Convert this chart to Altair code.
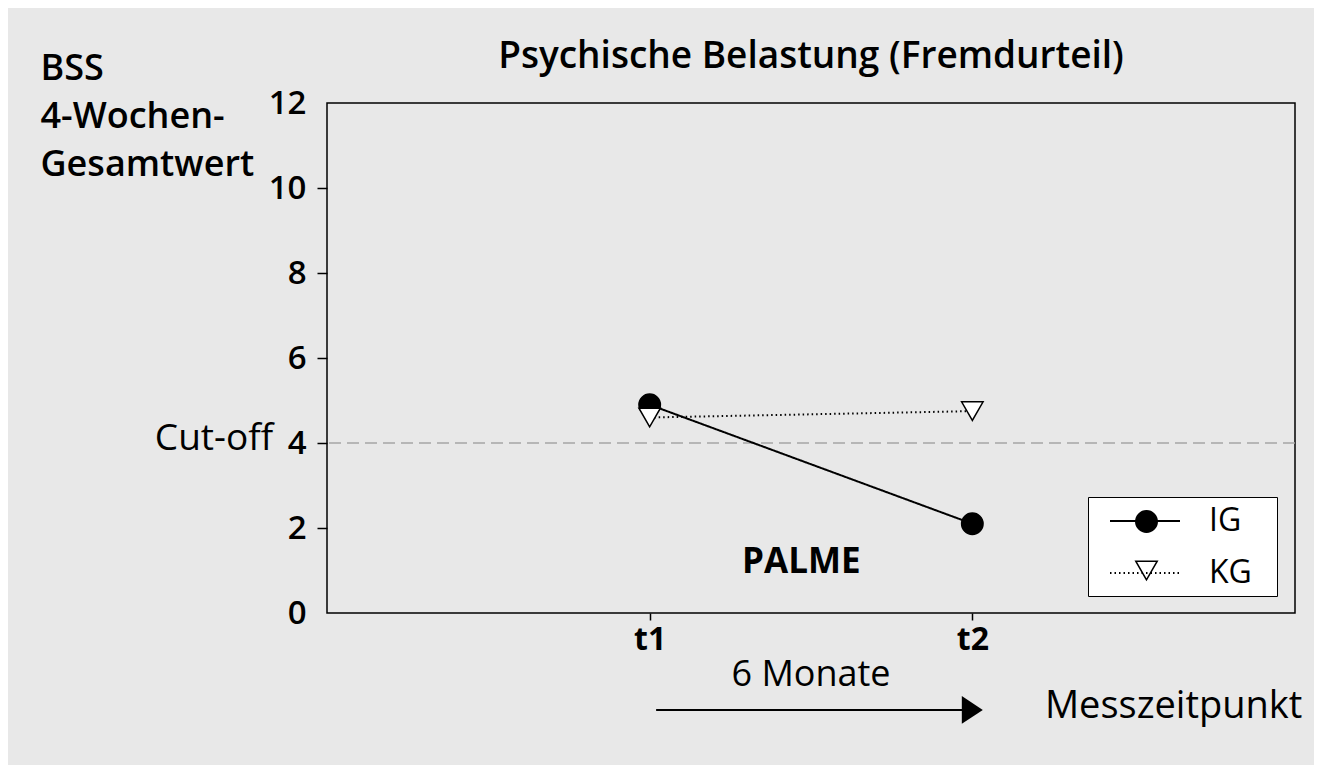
import altair as alt
import pandas as pd

# ---- data ----
groups = ["IG", "KG"]
times = [1, 2]            # t1, t2
ig_values = [4.9, 2.1]
kg_values = [4.6, 4.75]
cutoff = 4
y_ticks = [0, 2, 4, 6, 8, 10, 12]

rows = []
for t, v in zip(times, ig_values):
    rows.append({"t": t, "value": v, "group": "IG", "marker": "IG\u00a0"})
for t, v in zip(times, kg_values):
    rows.append({"t": t, "value": v, "group": "KG", "marker": "KG\u00a0"})
df = pd.DataFrame(rows)
markers = ["IG\u00a0", "KG\u00a0"]

FONT = "Open Sans"
BG = "#e8e8e8"
FS = 37

xscale = alt.Scale(domain=[0, 3], nice=False, zero=False)
yscale = alt.Scale(domain=[0, 12], nice=False)

x_enc = alt.X("t:Q", scale=xscale,
              axis=alt.Axis(values=times, labelExpr="'t' + datum.value", title=None,
                            domain=False, grid=False, tickSize=7, tickColor="black",
                            tickWidth=1.5, labelFontSize=32, labelFontWeight="bold",
                            labelColor="black", labelPadding=4, labelFont=FONT))
y_enc = alt.Y("value:Q", scale=yscale,
              axis=alt.Axis(values=y_ticks, title=["BSS", "4-Wochen-", "Gesamtwert"],
                            titleAngle=0, titleAlign="left", titleBaseline="alphabetic",
                            titleX=-287, titleY=-24, titleLineHeight=48,
                            titleFontSize=36, titleFontWeight=600, titleFont=FONT,
                            titleColor="black",
                            domain=False, grid=False, tickSize=10, tickColor="black",
                            tickWidth=1.5,
                            tickOpacity=alt.condition("datum.value == 0 || datum.value == 12",
                                                      alt.value(0), alt.value(1)),
                            labelFontSize=33, labelFontWeight=600, labelColor="black",
                            labelPadding=11, labelFont=FONT))

cut_rule = alt.Chart().mark_rule(color="#a5a5a5", strokeWidth=1.5, strokeDash=[12, 6]).encode(
    y=alt.datum(cutoff, scale=yscale)
)

# line-style legend (drawn on top, no box)
line_legend = alt.Legend(orient="none", legendX=761, legendY=374,
                         title=None, symbolType="stroke",
                         symbolSize=4900, symbolStrokeWidth=2,
                         symbolStrokeColor="black",
                         labelFontSize=32, labelFont=FONT,
                         labelColor="black", labelOffset=28,
                         symbolOffset=13, padding=8, rowPadding=-26, zindex=2)

lines = alt.Chart(df).mark_line(color="black", strokeWidth=2).encode(
    x=x_enc,
    y=y_enc,
    strokeDash=alt.StrokeDash("group:N",
                              scale=alt.Scale(domain=groups, range=[[1, 0], [1.5, 3]]),
                              legend=line_legend),
    detail="group:N",
)

# marker legend (drawn underneath, carries the white box)
marker_legend = alt.Legend(orient="none", legendX=761, legendY=394, title=None,
                           symbolSize=460, symbolStrokeWidth=1.5,
                           symbolStrokeColor="black",
                           labelFontSize=33, labelFont=FONT,
                           labelExpr="'\u00a0'",
                           labelOffset=106, symbolOffset=34, padding=8, rowPadding=15,
                           fillColor="white", strokeColor="black", zindex=1)

points = alt.Chart(df).mark_point(strokeWidth=1.5, opacity=1,
                                  fillOpacity=1, strokeOpacity=1, size=460).encode(
    x=alt.X("t:Q", scale=xscale),
    y=alt.Y("value:Q", scale=yscale),
    shape=alt.Shape("marker:N",
                    scale=alt.Scale(domain=markers, range=["circle", "triangle-down"]),
                    legend=marker_legend),
    fill=alt.Fill("marker:N", scale=alt.Scale(domain=markers, range=["black", "white"]),
                  legend=marker_legend),
    stroke=alt.Stroke("marker:N", scale=alt.Scale(domain=markers, range=["black", "black"]),
                      legend=marker_legend),
)

title_text = alt.Chart().mark_text(align="center", baseline="alphabetic", fontSize=37,
                                   font=FONT, fontWeight=600, color="black").encode(
    x=alt.datum(1.5, scale=xscale), y=alt.datum(12.82, scale=yscale),
    text=alt.value("Psychische Belastung (Fremdurteil)"))

cut_text = alt.Chart().mark_text(align="right", baseline="middle", fontSize=FS, font=FONT,
                                 color="black", dy=-4).encode(
    x=alt.datum(-0.167, scale=xscale), y=alt.datum(cutoff, scale=yscale),
    text=alt.value("Cut-off"))

palme = alt.Chart().mark_text(align="center", baseline="middle", fontSize=35, font=FONT,
                              fontWeight="bold", color="black").encode(
    x=alt.datum(1.47, scale=xscale), y=alt.datum(1.21, scale=yscale),
    text=alt.value("PALME"))

months = alt.Chart().mark_text(align="center", baseline="middle", fontSize=36, font=FONT,
                               color="black").encode(
    x=alt.datum(1.5, scale=xscale), y=alt.datum(-1.45, scale=yscale),
    text=alt.value("6 Monate"))

mess = alt.Chart().mark_text(align="left", baseline="middle", fontSize=38, font=FONT,
                             color="black").encode(
    x=alt.datum(2.225, scale=xscale), y=alt.datum(-2.2, scale=yscale),
    text=alt.value("Messzeitpunkt"))

arrow_line = alt.Chart().mark_rule(color="black", strokeWidth=2).encode(
    x=alt.datum(1.02, scale=xscale), x2=alt.datum(1.97),
    y=alt.datum(-2.28, scale=yscale))

arrow_head = alt.Chart().mark_point(shape="M-1,-1.33L1,0L-1,1.33Z", filled=True,
                                    color="black", size=441, opacity=1).encode(
    x=alt.datum(2.0, scale=xscale), y=alt.datum(-2.28, scale=yscale))

chart = alt.layer(cut_rule, lines, points, title_text, cut_text, palme, months, mess,
                  arrow_line, arrow_head).properties(
    width=968, height=510,
    padding={"left": 319, "top": 95, "right": 19, "bottom": 152},
    autosize=alt.AutoSizeParams(type="none"),
    background=BG,
).configure_view(stroke="black", strokeWidth=1.5, fill=None)

chart.save("out.html", embed_options={"renderer": "svg", "actions": False})
